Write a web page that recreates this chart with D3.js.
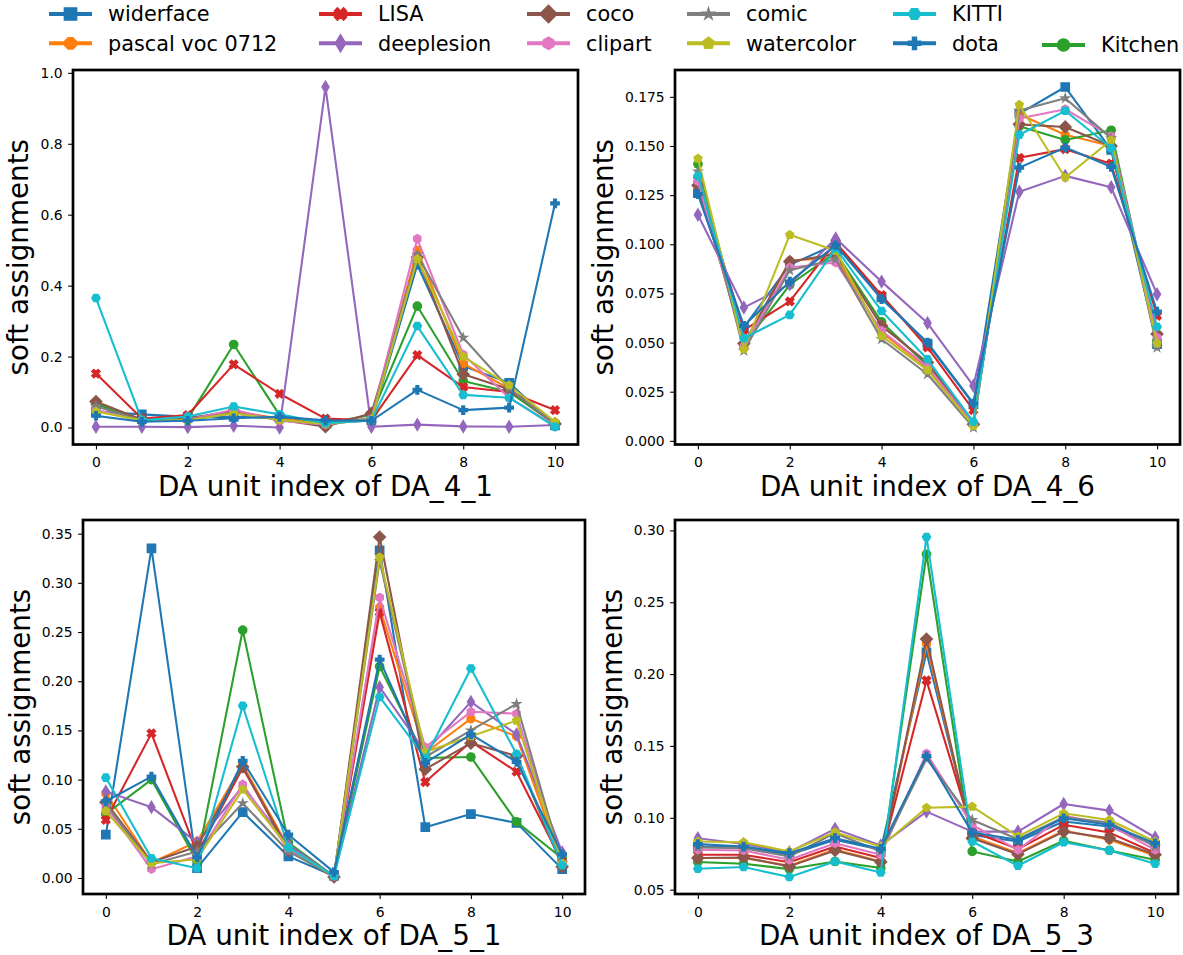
<!DOCTYPE html>
<html><head><meta charset="utf-8">
<script src="https://cdn.jsdelivr.net/npm/d3@7"></script>
<style>
body{margin:0;background:#fff}
text{font-family:"DejaVu Sans",sans-serif;fill:#000}
</style>
</head><body>
<svg id="chart" width="1183" height="955"></svg>
<script>
// ---------------- data ----------------
const units = [0,1,2,3,4,5,6,7,8,9,10];
const seriesNames = ["widerface","pascal voc 0712","LISA","deeplesion","coco","clipart","comic","watercolor","KITTI","dota","Kitchen"];
const seriesColors = ["#1f77b4","#ff7f0e","#d62728","#9467bd","#8c564b","#e377c2","#7f7f7f","#bcbd22","#17becf","#1f77b4","#2ca02c"];
const seriesMarkers = ["s","8","X","d","D","h","*","p","H","P","o"];
// drawing order (index into seriesNames)
const drawOrder = [0,1,10,2,3,4,5,6,7,8,9];

const xTicks = [0,2,4,6,8,10];
const yTicksDA41 = [0.0,0.2,0.4,0.6,0.8,1.0];
const yTicksDA46 = [0.000,0.025,0.050,0.075,0.100,0.125,0.150,0.175];
const yTicksDA51 = [0.00,0.05,0.10,0.15,0.20,0.25,0.30,0.35];
const yTicksDA53 = [0.05,0.10,0.15,0.20,0.25,0.30];

// rows follow seriesNames order
const valuesDA41 = [
  [0.045,0.037,0.030,0.030,0.028,0.012,0.020,0.459,0.173,0.126,0.006],
  [0.070,0.022,0.025,0.045,0.025,0.010,0.025,0.500,0.180,0.110,0.010],
  [0.152,0.025,0.035,0.178,0.095,0.025,0.020,0.204,0.114,0.100,0.049],
  [0.002,0.002,0.001,0.005,0.000,0.960,0.002,0.008,0.003,0.002,0.007],
  [0.073,0.022,0.025,0.047,0.022,0.002,0.040,0.480,0.150,0.108,0.010],
  [0.050,0.018,0.022,0.050,0.019,0.008,0.025,0.532,0.206,0.084,0.005],
  [0.060,0.020,0.022,0.040,0.022,0.010,0.025,0.487,0.253,0.110,0.010],
  [0.045,0.020,0.020,0.040,0.022,0.010,0.022,0.475,0.200,0.119,0.016],
  [0.365,0.020,0.031,0.059,0.037,0.012,0.020,0.286,0.092,0.084,0.002],
  [0.033,0.016,0.019,0.026,0.030,0.020,0.019,0.106,0.049,0.056,0.632],
  [0.066,0.020,0.025,0.234,0.035,0.012,0.035,0.342,0.131,0.100,0.010]
];
const valuesDA46 = [
  [0.1260,0.0577,0.0895,0.1000,0.0730,0.0495,0.0187,0.1665,0.1800,0.1480,0.0492],
  [0.1340,0.0475,0.0916,0.0933,0.0551,0.0370,0.0085,0.1660,0.1557,0.1500,0.0510],
  [0.1330,0.0563,0.0709,0.1010,0.0741,0.0475,0.0156,0.1440,0.1484,0.1410,0.0636],
  [0.1150,0.0678,0.0797,0.1030,0.0810,0.0599,0.0280,0.1267,0.1348,0.1290,0.0746],
  [0.1300,0.0495,0.0912,0.0950,0.0585,0.0398,0.0085,0.1610,0.1597,0.1500,0.0543],
  [0.1320,0.0480,0.0882,0.0907,0.0560,0.0376,0.0085,0.1640,0.1687,0.1550,0.0526],
  [0.1370,0.0458,0.0868,0.0924,0.0517,0.0339,0.0068,0.1680,0.1743,0.1540,0.0475],
  [0.1436,0.0466,0.1048,0.0967,0.0534,0.0360,0.0076,0.1710,0.1340,0.1530,0.0495],
  [0.1348,0.0522,0.0641,0.0980,0.0661,0.0415,0.0097,0.1557,0.1679,0.1490,0.0580],
  [0.1255,0.0585,0.0810,0.0995,0.0721,0.0500,0.0190,0.1390,0.1492,0.1394,0.0658],
  [0.1408,0.0490,0.0794,0.0958,0.0605,0.0382,0.0085,0.1600,0.1531,0.1580,0.0512]
];
const valuesDA51 = [
  [0.044,0.335,0.010,0.067,0.022,0.002,0.333,0.0516,0.065,0.056,0.009],
  [0.086,0.0155,0.037,0.115,0.031,0.002,0.275,0.127,0.162,0.144,0.015],
  [0.059,0.147,0.025,0.112,0.029,0.002,0.270,0.0975,0.1386,0.108,0.016],
  [0.088,0.072,0.036,0.093,0.034,0.002,0.194,0.128,0.179,0.146,0.026],
  [0.077,0.016,0.032,0.113,0.028,0.001,0.3466,0.1106,0.137,0.124,0.0115],
  [0.073,0.009,0.022,0.095,0.029,0.002,0.285,0.133,0.169,0.167,0.015],
  [0.075,0.014,0.027,0.076,0.027,0.002,0.322,0.123,0.150,0.177,0.015],
  [0.068,0.015,0.019,0.090,0.031,0.002,0.326,0.128,0.144,0.160,0.015],
  [0.102,0.020,0.010,0.175,0.031,0.002,0.184,0.122,0.213,0.126,0.013],
  [0.078,0.103,0.021,0.119,0.044,0.006,0.222,0.117,0.146,0.118,0.024],
  [0.065,0.100,0.017,0.252,0.036,0.002,0.215,0.122,0.123,0.057,0.020]
];
const valuesDA53 = [
  [0.0800,0.0796,0.0743,0.0847,0.0777,0.2152,0.0881,0.0835,0.0974,0.0939,0.0812],
  [0.0720,0.0720,0.0666,0.0780,0.0696,0.2210,0.0870,0.0754,0.0911,0.0847,0.0736],
  [0.0743,0.0743,0.0690,0.0800,0.0720,0.1956,0.0904,0.0782,0.0951,0.0897,0.0754],
  [0.0858,0.0817,0.0761,0.0923,0.0807,0.1043,0.0904,0.0904,0.1096,0.1050,0.0863],
  [0.0720,0.0724,0.0662,0.0773,0.0692,0.2244,0.0858,0.0747,0.0904,0.0858,0.0743],
  [0.0777,0.0773,0.0708,0.0823,0.0743,0.1447,0.0950,0.0777,0.1015,0.0950,0.0777],
  [0.0793,0.0789,0.0731,0.0893,0.0766,0.1410,0.0985,0.0851,0.1004,0.0967,0.0800],
  [0.0835,0.0830,0.0766,0.0900,0.0800,0.1070,0.1078,0.0870,0.1031,0.0985,0.0835],
  [0.0646,0.0657,0.0588,0.0696,0.0620,0.2954,0.0835,0.0666,0.0830,0.0773,0.0680],
  [0.0817,0.0800,0.0754,0.0858,0.0784,0.1430,0.0897,0.0847,0.0997,0.0951,0.0823],
  [0.0692,0.0680,0.0643,0.0696,0.0650,0.2834,0.0766,0.0696,0.0840,0.0773,0.0708]
];

// ---------------- layout ----------------
const panels = [
  {values: valuesDA41, ticks: yTicksDA41, fmt: ".1f", label: "DA unit index of DA_4_1", left: 73,  right: 578,  top: 70,  bottom: 444.5},
  {values: valuesDA46, ticks: yTicksDA46, fmt: ".3f", label: "DA unit index of DA_4_6", left: 675, right: 1180, top: 70,  bottom: 444.5},
  {values: valuesDA51, ticks: yTicksDA51, fmt: ".2f", label: "DA unit index of DA_5_1", left: 83,  right: 585,  top: 520, bottom: 894},
  {values: valuesDA53, ticks: yTicksDA53, fmt: ".2f", label: "DA unit index of DA_5_3", left: 675, right: 1178, top: 520, bottom: 894}
];

const svg = d3.select("#chart");

function markerPath(type, m) {
  const r = m / 2;
  const poly = pts => "M" + pts.map(p => p[0].toFixed(2) + "," + p[1].toFixed(2)).join("L") + "Z";
  const regular = (n, rot) => d3.range(n).map(i => {
    const a = rot + i * 2 * Math.PI / n;
    return [r * Math.sin(a), -r * Math.cos(a)];
  });
  const s = r * Math.SQRT2;
  switch (type) {
    case "s": return poly([[-r,-r],[r,-r],[r,r],[-r,r]]);
    case "o": return `M${r},0A${r},${r} 0 1,1 ${-r},0A${r},${r} 0 1,1 ${r},0Z`;
    case "8": return poly(regular(8, Math.PI / 8));
    case "h": return poly(regular(6, 0));
    case "H": return poly(regular(6, Math.PI / 6));
    case "p": return poly(regular(5, 0));
    case "*": return poly(d3.range(10).map(i => {
      const a = i * Math.PI / 5, rr = (i % 2 === 0) ? r : r * 0.381966;
      return [rr * Math.sin(a), -rr * Math.cos(a)];
    }));
    case "D": return poly([[0,-s],[s,0],[0,s],[-s,0]]);
    case "d": return poly([[0,-s],[0.6*s,0],[0,s],[-0.6*s,0]]);
    case "X": return poly([[-1,-2],[0,-1],[1,-2],[2,-1],[1,0],[2,1],[1,2],[0,1],[-1,2],[-2,1],[-1,0],[-2,-1]].map(p => [p[0]*m/4, p[1]*m/4]));
    case "P": return poly([[-1,-3],[1,-3],[1,-1],[3,-1],[3,1],[1,1],[1,3],[-1,3],[-1,1],[-3,1],[-3,-1],[-1,-1]].map(p => [p[0]*m/6, p[1]*m/6]));
  }
}

const MS = 8.3, LW = 2.08;

panels.forEach(P => {
  const g = svg.append("g");
  const x = d3.scaleLinear().domain([-0.5, 10.5]).range([P.left, P.right]);
  const all = P.values.flat();
  const mn = d3.min(all), mx = d3.max(all), pad = (mx - mn) * 0.05;
  const y = d3.scaleLinear().domain([mn - pad, mx + pad]).range([P.bottom, P.top]);

  const line = d3.line().x((d, i) => x(units[i])).y(d => y(d));
  drawOrder.forEach(si => {
    const sg = g.append("g");
    sg.append("path").attr("d", line(P.values[si]))
      .attr("fill", "none").attr("stroke", seriesColors[si])
      .attr("stroke-width", LW).attr("stroke-linejoin", "round").attr("stroke-linecap", "square");
    sg.selectAll("path.m").data(P.values[si]).enter().append("path")
      .attr("class", "m")
      .attr("d", markerPath(seriesMarkers[si], MS))
      .attr("transform", (d, i) => `translate(${x(units[i])},${y(d)})`)
      .attr("fill", seriesColors[si]).attr("stroke", seriesColors[si]).attr("stroke-width", 1.39)
      .attr("stroke-linejoin", "miter");
  });

  // axes
  const xa = g.append("g").attr("transform", `translate(0,${P.bottom})`)
    .call(d3.axisBottom(x).tickValues(xTicks).tickSize(4.9).tickPadding(7.9).tickFormat(d3.format("d")));
  const ya = g.append("g").attr("transform", `translate(${P.left},0)`)
    .call(d3.axisLeft(y).tickValues(P.ticks).tickSize(4.9).tickPadding(5.4).tickFormat(d3.format(P.fmt)));
  [xa, ya].forEach(a => {
    a.select(".domain").remove();
    a.selectAll(".tick line").attr("stroke", "#000").attr("stroke-width", 1.1);
    a.selectAll(".tick text").style("font-size", "13.9px").style("font-family", "DejaVu Sans").attr("fill", "#000");
  });

  // spine frame
  g.append("rect").attr("x", P.left).attr("y", P.top)
    .attr("width", P.right - P.left).attr("height", P.bottom - P.top)
    .attr("fill", "none").attr("stroke", "#000").attr("stroke-width", 2.7);

  // x label
  g.append("text").attr("x", (P.left + P.right) / 2).attr("y", P.bottom + 51)
    .attr("text-anchor", "middle").style("font-size", "27.8px").text(P.label);

  // y label
  let minX = Infinity;
  ya.selectAll(".tick text").each(function() {
    const b = this.getBBox();
    minX = Math.min(minX, P.left + b.x);
  });
  const lx = minX - 12.2, ly = (P.top + P.bottom) / 2;
  g.append("text").attr("transform", `translate(${lx},${ly}) rotate(-90)`)
    .attr("text-anchor", "middle").style("font-size", "27.8px").text("soft assignments");
});

// ---------------- legend ----------------
const legendColStarts = [49, 319, 527, 687, 893, 1042];
const legendRowY = [14, 43.3];
const leg = svg.append("g");
seriesNames.forEach((name, i) => {
  const col = Math.floor(i / 2), row = i % 2;
  const x0 = legendColStarts[col];
  const yc = (i === 10) ? 45 : legendRowY[row];
  const lg = leg.append("g");
  lg.append("line").attr("x1", x0).attr("x2", x0 + 43).attr("y1", yc).attr("y2", yc)
    .attr("stroke", seriesColors[i]).attr("stroke-width", 4);
  lg.append("path").attr("d", markerPath(seriesMarkers[i], 12.3))
    .attr("transform", `translate(${x0 + 21.5},${yc})`)
    .attr("fill", seriesColors[i]).attr("stroke", seriesColors[i]).attr("stroke-width", 1.39);
  lg.append("text").attr("x", x0 + 59).attr("y", yc + 7.2)
    .style("font-size", "20.8px").text(name);
});
</script>
</body></html>
